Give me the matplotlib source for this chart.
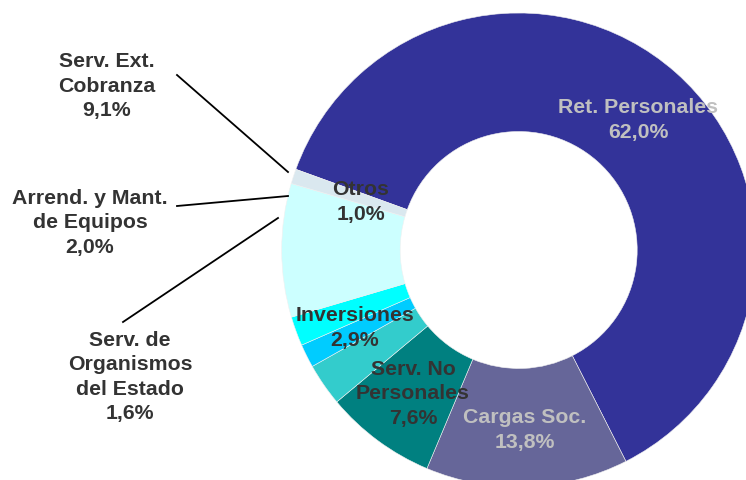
import matplotlib
matplotlib.use("Agg")
import matplotlib.pyplot as plt

# ---- data ----
categories = ["Ret. Personales", "Cargas Soc.", "Serv. No\nPersonales", "Inversiones",
              "Serv. de\nOrganismos\ndel Estado", "Arrend. y Mant.\nde Equipos",
              "Serv. Ext.\nCobranza", "Otros"]
values = [62.0, 13.8, 7.6, 2.9, 1.6, 2.0, 9.1, 1.0]
colors = ["#333399", "#666699", "#008080", "#33CCCC", "#00CCFF", "#00FFFF", "#CCFFFF", "#DAE8EF"]

W, H = 746, 481
fig = plt.figure(figsize=(W / 100, H / 100), dpi=100)
ax = fig.add_axes([0, 0, 1, 1])

cx, cy_px = 518.7, 251.0
R = 237.0
cy = H - cy_px

ax.pie(values, colors=colors, startangle=160.1, counterclock=False,
       center=(cx, cy), radius=R, frame=True,
       wedgeprops=dict(width=R * 0.5, edgecolor="#f0f0f0", linewidth=0.4))

ax.set_xlim(0, W)
ax.set_ylim(0, H)
ax.set_aspect("equal")
ax.axis("off")

def fmt(v):
    return f"{v:.1f}".replace(".", ",") + "%"

dark = "#333333"
light = "#C0C0C0"
# label layout: (x_px, y_px center, color)
label_pos = [(638, 120, light), (525, 430, light), (413, 394, dark), (355, 328, dark),
             (130, 377, dark), (90, 223, dark), (107, 86, dark), (361, 202, dark)]
for cat, v, (x, y, c) in zip(categories, values, label_pos):
    ax.text(x, H - y, f"{cat}\n{fmt(v)}", ha="center", va="center", color=c,
            fontsize=15.3, fontweight="bold", family="Liberation Sans",
            linespacing=1.36)

# leader lines (pixel coords)
leaders = [((177, 76), (288, 173)), ((177, 207), (288, 197)), ((123, 323), (278, 219))]
for (x0, y0), (x1, y1) in leaders:
    ax.plot([x0, x1], [H - y0, H - y1], color="black", lw=1.3)

fig.savefig("out.png", dpi=100)
